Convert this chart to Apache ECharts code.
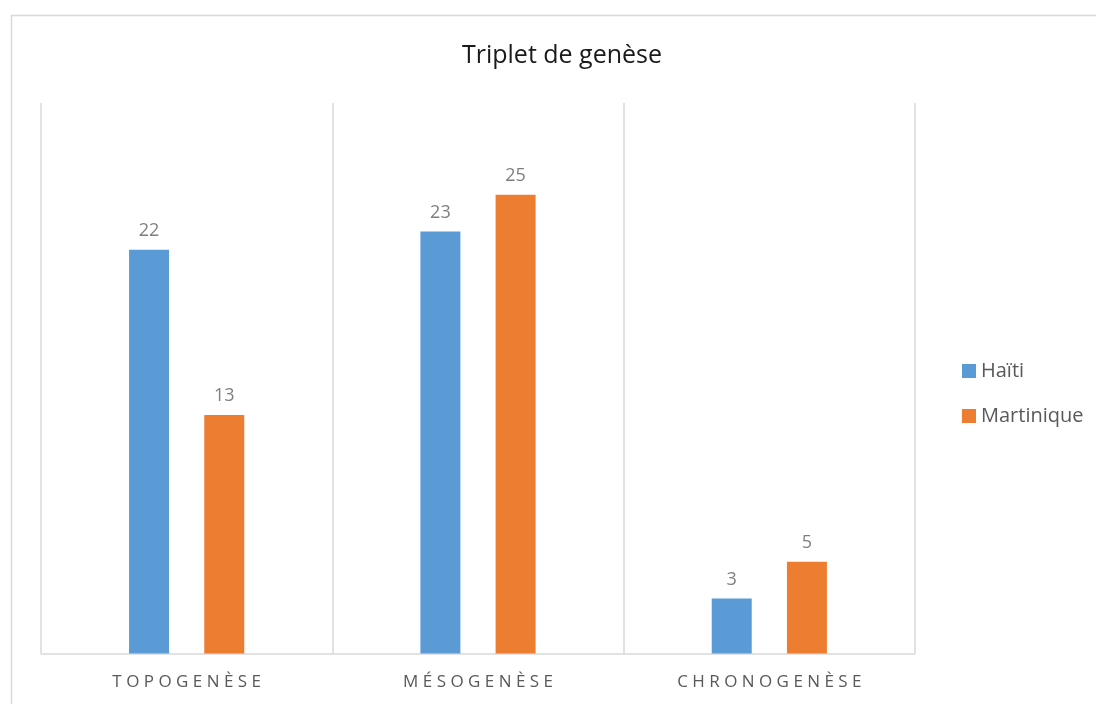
<!DOCTYPE html>
<html>
<head>
<meta charset="utf-8">
<script src="https://cdn.jsdelivr.net/npm/echarts@6/dist/echarts.min.js"></script>
<style>
  html, body { margin: 0; padding: 0; background: #fff; }
  #main { width: 1096px; height: 704px; }
</style>
</head>
<body>
<div id="main"></div>
<script>
var categories = ['TOPOGENÈSE', 'MÉSOGENÈSE', 'CHRONOGENÈSE'];
var haiti = [22, 23, 3];
var martinique = [13, 25, 5];

var chart = echarts.init(document.getElementById('main'));

// espacement des lettres des catégories
function spaced(s) {
  return s.split('').join(' ');
}

var option = {
  backgroundColor: '#fff',
  textStyle: { fontFamily: 'Open Sans' },
  graphic: [{
    type: 'rect',
    shape: { x: 11.5, y: 15.5, width: 1100, height: 700 },
    style: { fill: 'none', stroke: '#d9d9d9', lineWidth: 1.5 },
    silent: true
  }],
  title: {
    text: 'Triplet de genèse',
    left: 557,
    top: 38,
    textAlign: 'center',
    textStyle: { fontSize: 25, fontWeight: 'normal', color: '#1a1a1a', fontFamily: 'Open Sans' }
  },
  legend: {
    orient: 'vertical',
    left: 957,
    top: 356,
    itemWidth: 14,
    itemHeight: 14,
    itemGap: 25,
    icon: 'rect',
    textStyle: { fontSize: 20, color: '#595959', padding: [0, 0, 0, 0] },
    data: ['Haïti', 'Martinique']
  },
  grid: { left: 41, right: 181, top: 103, bottom: 50.5, containLabel: false },
  xAxis: {
    type: 'category',
    data: categories,
    axisLine: { lineStyle: { color: '#d9d9d9', width: 1.5 } },
    axisTick: { show: false },
    splitLine: { show: true, interval: 0, lineStyle: { color: '#d9d9d9', width: 1.5 } },
    axisLabel: {
      margin: 20,
      fontSize: 17,
      color: '#595959',
      formatter: spaced
    }
  },
  yAxis: {
    type: 'value',
    min: 0,
    max: 30,
    show: false
  },
  series: [
    {
      name: 'Haïti',
      type: 'bar',
      data: haiti,
      barWidth: 40,
      barGap: '88%',
      itemStyle: { color: '#5B9BD5' },
      label: { show: true, position: 'top', distance: 10, fontSize: 18, color: '#7f7f7f' }
    },
    {
      name: 'Martinique',
      type: 'bar',
      data: martinique,
      barWidth: 40,
      itemStyle: { color: '#ED7D31' },
      label: { show: true, position: 'top', distance: 10, fontSize: 18, color: '#7f7f7f' }
    }
  ]
};

chart.setOption(option);
</script>
</body>
</html>
